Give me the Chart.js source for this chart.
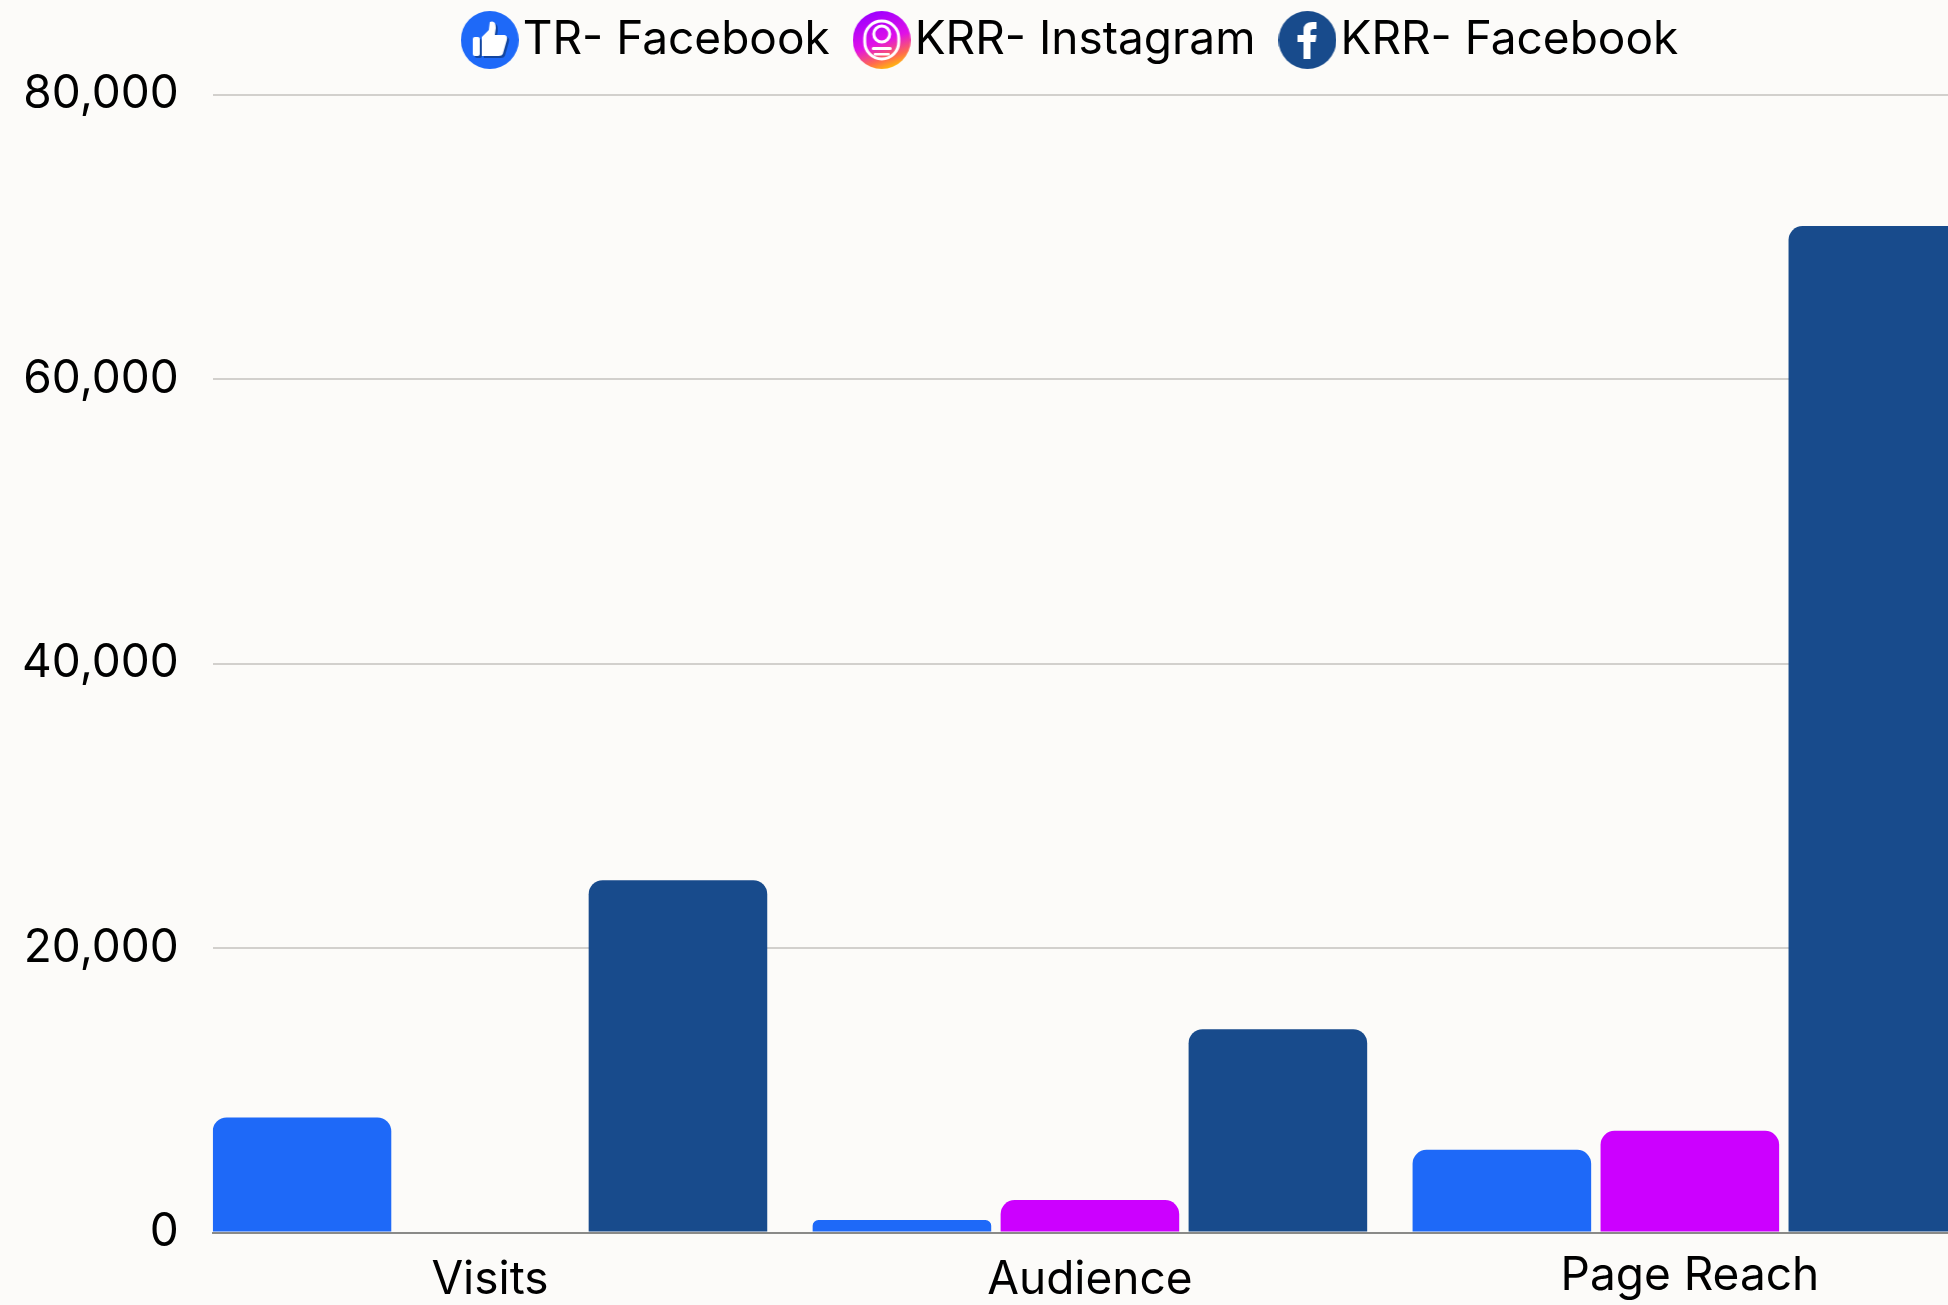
<!DOCTYPE html>
<html><head><meta charset="utf-8">
<style>html,body{margin:0;padding:0;width:1948px;height:1305px;overflow:hidden;background:#FCFBF9}canvas{display:block}</style>
<script src="https://cdn.jsdelivr.net/npm/chart.js@4"></script>
</head><body><canvas id="c" width="2138" height="1305" style="width:2138px;height:1305px"></canvas>
<script>
const categories = ["Visits", "Audience", "Page Reach"];
const seriesNames = ["TR- Facebook", "KRR- Instagram", "KRR- Facebook"];
const trFacebook = [8090, 880, 5815];
const krrInstagram = [0, 2280, 7150];
const krrFacebook = [24770, 14290, 70750];
const yTicks = [0, 20000, 40000, 60000, 80000];
const colors = ["#1E69F8", "#CC00FF", "#184B8C"];
const FONT = "Inter";

function makeIcon(draw){
  const s = 58, cv = document.createElement('canvas');
  cv.width = s; cv.height = s;
  draw(cv.getContext('2d'), s);
  return cv;
}
const icons = [
  makeIcon((g,s)=>{
    g.fillStyle = colors[0]; g.beginPath(); g.arc(29,29,29,0,7); g.fill();
    const thumb=(dx,dy,col)=>{
      g.fillStyle = col;
      g.beginPath(); g.roundRect(12+dx,26+dy,7,19,2); g.fill();
      g.beginPath();
      g.moveTo(21+dx,26+dy); g.lineTo(28+dx,19+dy); g.lineTo(29+dx,11+dy);
      g.quadraticCurveTo(35+dx,9+dy,35+dx,17+dy); g.lineTo(34+dx,24+dy);
      g.lineTo(44+dx,24+dy); g.quadraticCurveTo(47+dx,25+dy,46+dx,29+dy);
      g.lineTo(42+dx,43+dy); g.quadraticCurveTo(41+dx,45+dy,38+dx,45+dy);
      g.lineTo(21+dx,45+dy); g.closePath(); g.fill();
    };
    thumb(2,2,'#12459F'); thumb(0,0,'#FFFFFF');
  }),
  makeIcon((g,s)=>{
    const gr = g.createLinearGradient(20,2,40,58);
    gr.addColorStop(0,'#A000FF'); gr.addColorStop(.5,'#E010E8'); gr.addColorStop(.8,'#FF6A50'); gr.addColorStop(1,'#FFC800');
    g.fillStyle = gr; g.beginPath(); g.arc(29,29,29,0,7); g.fill();
    g.strokeStyle = '#fff'; g.lineWidth = 3;
    g.beginPath(); g.roundRect(12,10,34,38,17); g.stroke();
    g.beginPath(); g.arc(29,23,8,0,7); g.stroke();
    g.fillStyle='#fff'; g.beginPath(); g.roundRect(19,36,20,3,1.5); g.fill();
    g.beginPath(); g.roundRect(21,42,16,2.5,1); g.fill();
  }),
  makeIcon((g,s)=>{
    g.fillStyle = colors[2]; g.beginPath(); g.arc(29,29,29,0,7); g.fill();
    g.fillStyle = '#fff'; g.beginPath();
    g.moveTo(25,48); g.lineTo(25,31); g.lineTo(19,31); g.lineTo(19,24); g.lineTo(25,24); g.lineTo(25,19);
    g.quadraticCurveTo(25,11,34,11); g.lineTo(38,11); g.lineTo(38,18); g.lineTo(35,18);
    g.quadraticCurveTo(32,18,32,21); g.lineTo(32,24); g.lineTo(38,24); g.lineTo(37,31); g.lineTo(32,31); g.lineTo(32,48);
    g.closePath(); g.fill();
  })
];

const moveLegend = {
  id: 'moveLegend',
  afterLayout(chart){
    const l = chart.legend;
    l.top -= 21.5; l.bottom -= 21.5;
    l.left += 10; l.right += 10;
  }
};

const values = [trFacebook, krrInstagram, krrFacebook];
new Chart(document.getElementById('c'), {
  type: 'bar',
  plugins: [moveLegend],
  data: {
    datasets: seriesNames.map((name,i)=>({
      label: name,
      data: values[i].map((v,k)=>({x:k,y:v})),
      backgroundColor: colors[i],
      borderRadius: {topLeft:14, topRight:14, bottomLeft:0, bottomRight:0},
      borderSkipped: 'bottom',
      categoryPercentage: 0.94,
      barPercentage: 0.95
    }))
  },
  options: {
    responsive: false,
    animation: false,
    layout: {padding: {top: -3.5, right: 0, bottom: 0, left: 0}},
    plugins: {
      tooltip: {enabled:false},
      legend: {
        position: 'top',
        labels: {
          usePointStyle: true,
          pointStyleWidth: 20,
          boxHeight: 46,
          padding: 42,
          color: '#000',
          font: {family: FONT, size: 46, weight: '400'},
          generateLabels(chart){
            return Chart.defaults.plugins.legend.labels.generateLabels(chart).map((l,i)=>Object.assign(l,{pointStyle:icons[i]}));
          }
        }
      }
    },
    scales: {
      x: {
        type: 'linear',
        offset: false,
        min: -0.462, max: 2.747,
        afterBuildTicks(s){ s.ticks = categories.map((_,i)=>({value:i})); },
        afterFit(s){ s.height = 72.5; },
        grid: {display:false, drawTicks:false},
        border: {display:true, color:'#8A8A88', width:2},
        ticks: {
          autoSkip:false, maxRotation:0, minRotation:0, padding: 20, color:'#000',
          font: (ctx)=>({family:FONT, size:46, lineHeight: ctx.index===2 ? 1.05 : 1.2}),
          callback: (v)=>categories[v]
        }
      },
      y: {
        min: 0, max: 80000,
        afterBuildTicks(s){ s.ticks = yTicks.map(v=>({value:v})); },
        afterFit(s){ s.width = 212.8; },
        grid: {color:'#D2D0CD', lineWidth:2, drawTicks:false},
        border: {display:false},
        ticks: {
          padding: 34, color:'#000',
          font: {family:FONT, size:46},
          callback: (v)=>v.toLocaleString('en-US')
        }
      }
    }
  }
});
</script></body></html>
